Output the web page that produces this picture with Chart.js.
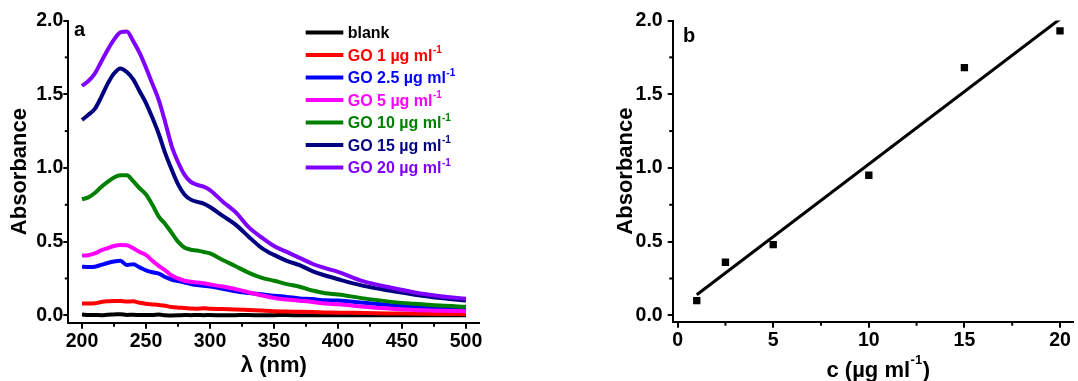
<!DOCTYPE html>
<html><head><meta charset="utf-8">
<script src="https://cdn.jsdelivr.net/npm/chart.js@4.4.1/dist/chart.umd.min.js"></script>
<style>
html,body{margin:0;padding:0;background:#fff;width:1078px;height:381px;overflow:hidden}
#cA{position:absolute;left:0;top:0}
#cB{position:absolute;left:600px;top:0}
</style></head><body>
<canvas id="cA" width="530" height="381"></canvas>
<canvas id="cB" width="478" height="381"></canvas>
<script>
// ---------- Panel a data ----------
const wavelengths = [200,205,210,215,220,225,230,235,240,245,250,255,260,265,270,275,280,285,290,295,300,310,320,330,340,350,360,370,380,390,400,420,440,460,480,500];
const blank = [0.005,0.002,0.003,0.001,0.004,0.006,0.008,0.003,0.004,0.002,0.003,0.002,0.005,0.001,-0.001,0.000,0.002,0.001,0.003,0.001,0.002,0.000,0.001,0.002,0.000,0.001,0.002,0.000,0.001,0.000,0.001,0.000,0.001,0.000,0.000,0.000];
const go1 = [0.081,0.080,0.082,0.090,0.095,0.098,0.098,0.094,0.095,0.085,0.078,0.074,0.070,0.065,0.056,0.052,0.050,0.047,0.045,0.048,0.045,0.043,0.040,0.036,0.032,0.028,0.026,0.024,0.022,0.020,0.018,0.016,0.013,0.011,0.009,0.008];
const go2_5 = [0.330,0.328,0.330,0.342,0.355,0.365,0.370,0.342,0.346,0.325,0.305,0.292,0.283,0.260,0.243,0.232,0.223,0.213,0.205,0.200,0.195,0.180,0.163,0.152,0.143,0.133,0.125,0.115,0.110,0.102,0.100,0.085,0.070,0.057,0.050,0.042];
const go5 = [0.405,0.408,0.420,0.440,0.455,0.470,0.477,0.475,0.455,0.430,0.410,0.370,0.335,0.305,0.270,0.250,0.235,0.228,0.222,0.218,0.210,0.195,0.178,0.157,0.136,0.118,0.107,0.099,0.091,0.080,0.075,0.058,0.046,0.036,0.031,0.028];
const go10 = [0.787,0.800,0.830,0.870,0.905,0.935,0.950,0.950,0.910,0.862,0.820,0.750,0.670,0.620,0.560,0.500,0.460,0.445,0.440,0.430,0.420,0.375,0.333,0.290,0.256,0.235,0.212,0.194,0.168,0.150,0.142,0.115,0.093,0.078,0.066,0.058];
const go15 = [1.326,1.360,1.400,1.480,1.570,1.640,1.675,1.650,1.600,1.520,1.440,1.340,1.230,1.100,0.990,0.890,0.820,0.785,0.770,0.758,0.735,0.674,0.615,0.535,0.460,0.410,0.370,0.340,0.300,0.270,0.245,0.200,0.168,0.140,0.118,0.100];
const go20 = [1.557,1.590,1.640,1.720,1.800,1.870,1.920,1.925,1.860,1.780,1.680,1.570,1.460,1.310,1.150,1.040,0.955,0.905,0.885,0.873,0.850,0.771,0.700,0.600,0.530,0.470,0.430,0.390,0.350,0.320,0.295,0.230,0.190,0.155,0.130,0.112];
const seriesA = [blank, go1, go2_5, go5, go10, go15, go20];
const namesA = ['blank','GO 1 µg ml','GO 2.5 µg ml','GO 5 µg ml','GO 10 µg ml','GO 15 µg ml','GO 20 µg ml'];
const supA = ['','-1','-1','-1','-1','-1','-1'];
const colorsA = ['#000000','#ff0000','#0000ff','#ff00ff','#008000','#000080','#8000ff'];
const xTicksA = [200,250,300,350,400,450,500];
const xMinorA = [225,275,325,375,425,475];
const yTicksA = [0.0,0.5,1.0,1.5,2.0];
const yMinor = [0.25,0.75,1.25,1.75];

// ---------- Panel b data ----------
const conc = [1, 2.5, 5, 10, 15, 20];
const absorbance = [0.10, 0.36, 0.48, 0.95, 1.68, 1.93];
const fitX = [1, 20];
const fitY = [0.14, 2.01];
const xTicksB = [0,5,10,15,20];
const xMinorB = [2.5,7.5,12.5,17.5];
const yTicksB = [0.0,0.5,1.0,1.5,2.0];

const FONT = "'Liberation Sans', Arial, Helvetica, sans-serif";
Chart.defaults.font.family = FONT;
Chart.defaults.font.weight = 'bold';
Chart.defaults.color = '#000';

const extras = {
  id: 'extras',
  afterDraw(chart, args, o) {
    const ctx = chart.ctx, ca = chart.chartArea;
    const xs = chart.scales.x, ys = chart.scales.y;
    ctx.save();
    ctx.strokeStyle = '#000'; ctx.lineWidth = 2;
    (o.minorX || []).forEach(v => { const p = xs.getPixelForValue(v); ctx.beginPath(); ctx.moveTo(p, ca.bottom); ctx.lineTo(p, ca.bottom + 4); ctx.stroke(); });
    (o.minorY || []).forEach(v => { const p = ys.getPixelForValue(v); ctx.beginPath(); ctx.moveTo(ca.left, p); ctx.lineTo(ca.left - 3.5, p); ctx.stroke(); });
    ctx.fillStyle = '#000';
    ctx.textBaseline = 'alphabetic'; ctx.textAlign = 'left';
    if (o.letter) {
      ctx.font = 'bold 20px ' + FONT;
      ctx.fillText(o.letter, ca.left + o.letterDx, ca.top + o.letterDy);
    }
    if (o.legend) {
      const L = o.legend;
      namesA.forEach((n, i) => {
        const y = L.y0 + i * L.dy;
        ctx.strokeStyle = colorsA[i]; ctx.lineWidth = 4;
        ctx.beginPath(); ctx.moveTo(L.x0, y); ctx.lineTo(L.x1, y); ctx.stroke();
        ctx.fillStyle = colorsA[i];
        ctx.font = 'bold 16px ' + FONT;
        ctx.fillText(n, L.tx, y + 5.7);
        if (supA[i]) {
          const w = ctx.measureText(n).width;
          ctx.font = 'bold 10px ' + FONT;
          ctx.fillText(supA[i], L.tx + w + 0.5, y - 2);
        }
      });
    }
    if (o.xTitle) {
      const t = o.xTitle;
      ctx.fillStyle = '#000';
      ctx.font = 'bold 22px ' + FONT;
      const w1 = ctx.measureText(t.main).width;
      const w3 = ctx.measureText(t.end).width;
      ctx.font = 'bold 13px ' + FONT;
      const w2 = ctx.measureText(t.sup).width;
      let x = (ca.left + ca.right) / 2 + t.dx - (w1 + w2 + w3) / 2;
      ctx.font = 'bold 22px ' + FONT;
      ctx.fillText(t.main, x, t.y);
      ctx.font = 'bold 13px ' + FONT;
      ctx.fillText(t.sup, x + w1 + 0.5, t.y - 13);
      ctx.font = 'bold 22px ' + FONT;
      ctx.fillText(t.end, x + w1 + w2 + 1, t.y);
    }
    ctx.restore();
  }
};

function axisCommon(tickLen) {
  return {
    grid: { display: true, drawOnChartArea: false, drawTicks: true, tickLength: tickLen, tickWidth: 2, tickColor: '#000', color: '#000', lineWidth: 2 },
    border: { display: true, color: '#000', width: 2 }
  };
}

// ---------- Chart a ----------
new Chart(document.getElementById('cA'), {
  type: 'line',
  data: {
    datasets: seriesA.map((s, i) => ({
      label: namesA[i] + supA[i],
      data: wavelengths.map((w, k) => ({ x: w, y: s[k] })),
      borderColor: colorsA[i],
      backgroundColor: colorsA[i],
      borderWidth: 4,
      pointRadius: 0,
      fill: false,
      cubicInterpolationMode: 'monotone',
      order: seriesA.length - 1 - i
    }))
  },
  options: {
    responsive: false, animation: false, events: [],
    layout: { padding: { left: 0, top: 20.5, right: 50.7, bottom: 0 } },
    plugins: {
      legend: { display: false }, tooltip: { enabled: false },
      extras: { minorX: xMinorA, minorY: yMinor, letter: 'a', letterDx: 5.7, letterDy: 15.5,
        legend: { x0: 305.7, x1: 343.3, tx: 347.7, y0: 32.5, dy: 22.5 } }
    },
    scales: {
      x: Object.assign(axisCommon(6), {
        type: 'linear', min: 189.3, max: 510.4,
        afterBuildTicks: s => { s.ticks = xTicksA.map(v => ({ value: v })); },
        afterFit: s => { s.height = 58.3; s.paddingLeft = 0; s.paddingRight = 0; },
        ticks: { color: '#000', font: { size: 19.5, weight: 'bold' }, padding: 1.4, maxRotation: 0, autoSkip: false, callback: v => String(v) },
        title: { display: true, text: 'λ (nm)', color: '#000', font: { size: 22, weight: 'bold' }, padding: { top: 0, bottom: 2 } }
      }),
      y: Object.assign(axisCommon(5), {
        type: 'linear', min: -0.05, max: 2.0,
        afterBuildTicks: s => { s.ticks = yTicksA.map(v => ({ value: v })); },
        afterFit: s => { s.width = 68.3; s.paddingTop = 0; s.paddingBottom = 0; },
        ticks: { color: '#000', font: { size: 19.5, weight: 'bold' }, padding: 0, autoSkip: false, callback: v => Number(v).toFixed(1) },
        title: { display: true, text: 'Absorbance', color: '#000', font: { size: 22, weight: 'bold' }, padding: { top: 6.8, bottom: 0 } }
      })
    }
  },
  plugins: [extras]
});

// ---------- Chart b ----------
new Chart(document.getElementById('cB'), {
  type: 'scatter',
  data: {
    datasets: [
      {
        label: 'data',
        data: conc.map((c, k) => ({ x: c, y: absorbance[k] })),
        pointStyle: 'rect', pointRadius: 5.2, borderWidth: 0,
        backgroundColor: '#000', borderColor: '#000', order: 0
      },
      {
        label: 'fit',
        data: fitX.map((c, k) => ({ x: c, y: fitY[k] })),
        showLine: true, pointRadius: 0, borderWidth: 3, borderColor: '#000', backgroundColor: '#000', order: 1
      }
    ]
  },
  options: {
    responsive: false, animation: false, events: [],
    layout: { padding: { left: 0, top: 20.5, right: 0, bottom: 0 } },
    plugins: {
      legend: { display: false }, tooltip: { enabled: false },
      extras: { minorX: xMinorB, minorY: yMinor, letter: 'b', letterDx: 10.3, letterDy: 21.5,
        xTitle: { main: 'c (µg ml', sup: '-1', end: ')', y: 376.5, dx: 5 } }
    },
    scales: {
      x: Object.assign(axisCommon(6), {
        type: 'linear', min: -0.258, max: 20.67,
        afterBuildTicks: s => { s.ticks = xTicksB.map(v => ({ value: v })); },
        afterFit: s => { s.height = 59.3; s.paddingLeft = 0; s.paddingRight = 0; },
        ticks: { color: '#000', font: { size: 19.5, weight: 'bold' }, padding: 1.4, maxRotation: 0, autoSkip: false, callback: v => String(v) },
        title: { display: false }
      }),
      y: Object.assign(axisCommon(5), {
        type: 'linear', min: -0.043, max: 2.0,
        afterBuildTicks: s => { s.ticks = yTicksB.map(v => ({ value: v })); },
        afterFit: s => { s.width = 72.7; s.paddingTop = 0; s.paddingBottom = 0; },
        ticks: { color: '#000', font: { size: 19.5, weight: 'bold' }, padding: 5, autoSkip: false, callback: v => Number(v).toFixed(1) },
        title: { display: true, text: 'Absorbance', color: '#000', font: { size: 22, weight: 'bold' }, padding: { top: 12.8, bottom: 0 } }
      })
    }
  },
  plugins: [extras]
});
</script>
</body></html>
